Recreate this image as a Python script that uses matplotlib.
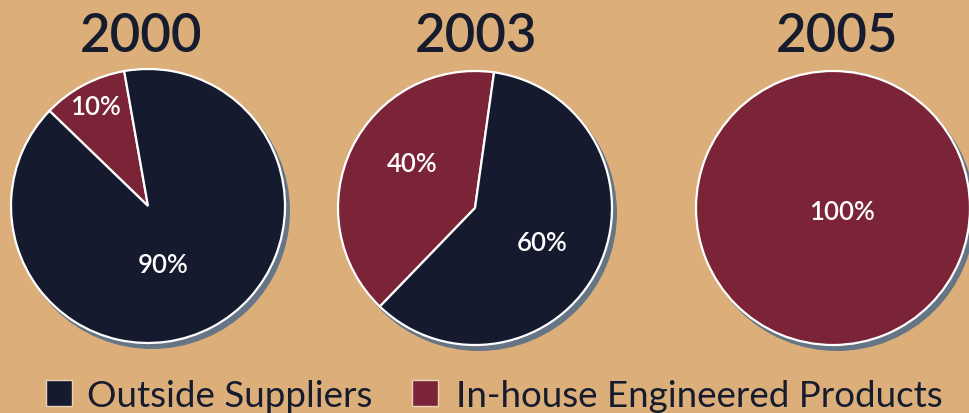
import math
import matplotlib
matplotlib.use("Agg")
import matplotlib.pyplot as plt
from matplotlib.patches import Circle, Rectangle

# ---- data ----
years = ["2000", "2003", "2005"]
categories = ["Outside Suppliers", "In-house Engineered Products"]
outside = [90, 60, 0]
inhouse = [10, 40, 100]

# ---- style ----
BG = "#dbae7a"
NAVY = "#151a2e"
MAROON = "#7b2437"
SHADOW = "#667586"
TXT = "#161b2e"
FONT = ["Lato", "DejaVu Sans"]

W, H = 969, 414
fig = plt.figure(figsize=(W / 100, H / 100), dpi=100, facecolor=BG)
ax = fig.add_axes([0, 0, 1, 1])
ax.set_facecolor(BG)

# layout (pixel coords, y measured from top)
centers = [(148, 207), (475, 209), (833, 209)]
radius = 137
startangles = [100, 82, 0]
title_x = [141, 476, 837]
title_y = 36
# label placement: (distance fraction, angle deg) per label, keyed by (year idx, category idx)
label_pos = {(0, 1): (0.82, 118), (0, 0): (0.44, -75),
             (1, 1): (0.56, 145), (1, 0): (0.55, -27),
             (2, 1): (0.07, -20)}

for i, yr in enumerate(years):
    cx, cyi = centers[i]
    cy = H - cyi
    # shadow
    ax.add_patch(Circle((cx + 4, cy - 5), radius + 1, facecolor=SHADOW,
                        edgecolor="none", zorder=1))
    vals = [inhouse[i], outside[i]]
    cols = [MAROON, NAVY]
    idx = [1, 0]
    keep = [k for k, v in enumerate(vals) if v > 0]
    wedges, _ = ax.pie([vals[k] for k in keep], colors=[cols[k] for k in keep],
                       center=(cx, cy), radius=radius, startangle=startangles[i],
                       counterclock=True, frame=True,
                       wedgeprops=dict(edgecolor="white", linewidth=1.6))
    for w in wedges:
        w.set_zorder(2)
    for k in keep:
        d, a = label_pos[(i, idx[k])]
        val = vals[k]
        tx = cx + d * radius * math.cos(math.radians(a))
        ty = cy + d * radius * math.sin(math.radians(a))
        ax.text(tx, ty, f"{val}%", color="white", fontsize=18.5, family=FONT,
                fontweight="semibold", ha="center", va="center", zorder=5)
    ax.text(title_x[i], H - title_y, yr, color=TXT, fontsize=38, family=FONT,
            fontweight="semibold", ha="center", va="center", zorder=5)

# legend
leg_items = [(46, NAVY, categories[0], 87), (412, MAROON, categories[1], 456)]
for sx, col, lab, tx in leg_items:
    ax.add_patch(Rectangle((sx, H - 407), 26, 26, facecolor=col, edgecolor="#e6d3b8",
                           linewidth=1.0, zorder=5))
    ax.text(tx, H - 407, lab, color=TXT, fontsize=26.5, family=FONT,
            ha="left", va="baseline", zorder=5)

ax.set_xlim(0, W)
ax.set_ylim(0, H)
ax.set_aspect("equal")
ax.axis("off")
fig.savefig("out.png", dpi=100, facecolor=BG)
